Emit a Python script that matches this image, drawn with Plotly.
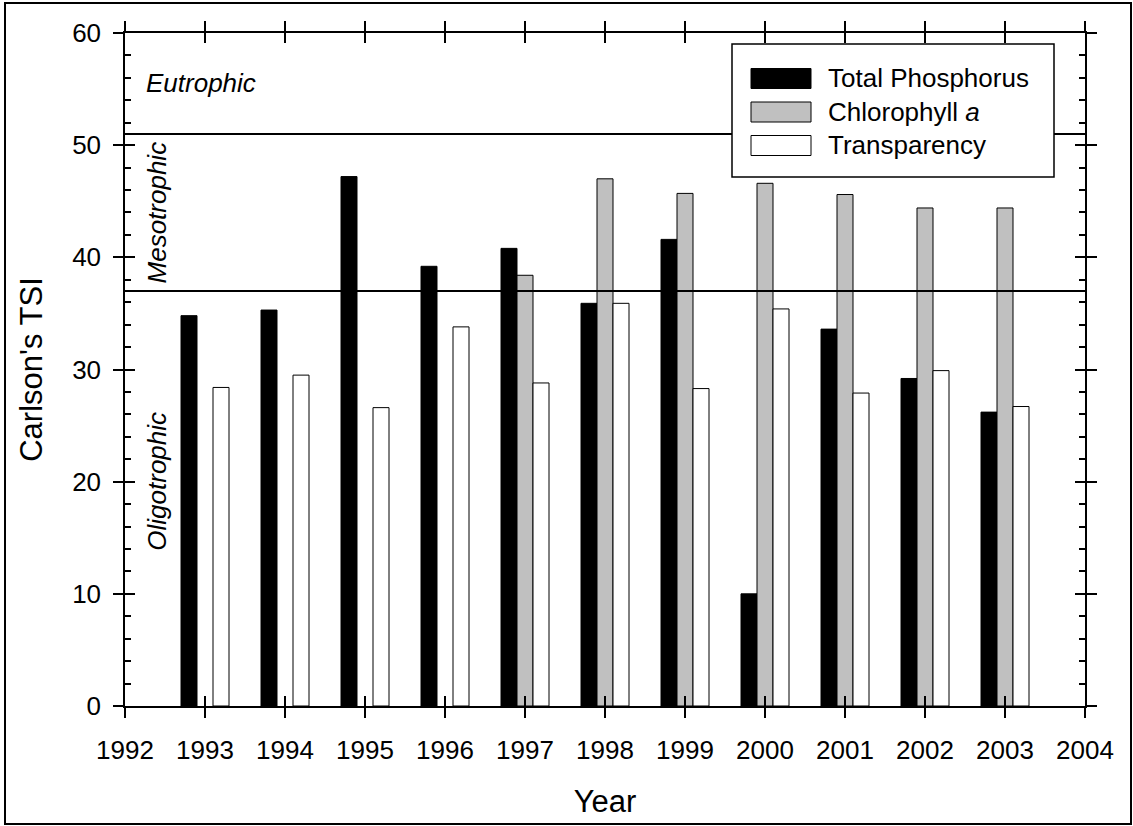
import plotly.graph_objects as go

# ---- data ----
years = [1993, 1994, 1995, 1996, 1997, 1998, 1999, 2000, 2001, 2002, 2003]
total_phosphorus = [34.8, 35.3, 47.2, 39.2, 40.8, 35.9, 41.6, 10.0, 33.6, 29.2, 26.2]
chlorophyll_a = [None, None, None, None, 38.4, 47.0, 45.7, 46.6, 45.6, 44.4, 44.4]
transparency = [28.4, 29.5, 26.6, 33.8, 28.8, 35.9, 28.3, 35.4, 27.9, 29.9, 26.7]
series_names = ["Total Phosphorus", "Chlorophyll <i>a</i>", "Transparency"]
series_colors = ["#000000", "#c0c0c0", "#ffffff"]
x_ticks = list(range(1992, 2005))
y_ticks = [0, 10, 20, 30, 40, 50, 60]
thresholds = [37, 51]
zone_labels = [("Eutrophic", 55.5), ("Mesotrophic", 44.0), ("Oligotrophic", 20.0)]

FONT = "Liberation Sans, Arial, sans-serif"

fig = go.Figure()
for name, vals, col in zip(series_names, [total_phosphorus, chlorophyll_a, transparency], series_colors):
    fig.add_trace(go.Bar(x=years, y=vals, name=name, marker=dict(color=col, line=dict(color="#000000", width=1)),
                         showlegend=False))

# helper trace for the inner tick axes
fig.add_trace(go.Scatter(x=[], y=[], xaxis="x2", yaxis="y2", showlegend=False, hoverinfo="skip"))

axis_common = dict(showgrid=False, zeroline=False, showline=True, linecolor="black", linewidth=1.5,
                   tickcolor="black", tickwidth=1.5, mirror="ticks")

fig.update_layout(
    width=1133, height=826,
    margin=dict(l=125, r=48, t=33, b=120),
    plot_bgcolor="white", paper_bgcolor="white",
    font=dict(family=FONT, color="black", size=26),
    barmode="group", bargap=0.4, bargroupgap=0,
    showlegend=False,
    xaxis=dict(range=[1992, 2004], tickmode="array", tickvals=x_ticks, ticks="outside", ticklen=10,
               ticklabelstandoff=10,
               tickfont=dict(size=26), title=dict(text="Year", font=dict(size=31), standoff=26),
               **axis_common),
    yaxis=dict(range=[0, 60], tickmode="array", tickvals=y_ticks, ticks="outside", ticklen=10,
               ticklabelstandoff=7,
               tickfont=dict(size=26), title=dict(text="Carlson's TSI", font=dict(size=31), standoff=20),
               **axis_common),
    xaxis2=dict(overlaying="x", anchor="y2", range=[1992, 2004], tickmode="array", tickvals=x_ticks,
                ticks="inside", ticklen=10, showticklabels=False, **axis_common),
    yaxis2=dict(overlaying="y", anchor="x2", side="left", range=[0, 60], tickmode="array", tickvals=y_ticks,
                ticks="inside", ticklen=10, showticklabels=False,
                minor=dict(ticks="inside", ticklen=6, dtick=2, tickcolor="black", tickwidth=1.5),
                **axis_common),
)

shapes = []
for th in thresholds:
    shapes.append(dict(type="line", xref="paper", x0=0, x1=1, yref="y", y0=th, y1=th,
                       line=dict(color="black", width=2), layer="above"))

# custom legend (paper coordinates)
def px_x(p):
    return (p - 125) / 960.0

def px_y(p):
    return (706 - p) / 673.0

shapes.append(dict(type="rect", xref="paper", yref="paper", x0=px_x(732), x1=px_x(1054),
                   y0=px_y(177), y1=px_y(44), fillcolor="white", line=dict(color="black", width=1.5),
                   layer="above"))
row_centers = [78.5, 112, 145.5]
annotations = []
for name, col, rc in zip(series_names, series_colors, row_centers):
    shapes.append(dict(type="rect", xref="paper", yref="paper", x0=px_x(751), x1=px_x(811),
                       y0=px_y(rc + 10), y1=px_y(rc - 10), fillcolor=col,
                       line=dict(color="black", width=1), layer="above"))
    annotations.append(dict(xref="paper", yref="paper", x=px_x(826), y=px_y(rc), text=name,
                            showarrow=False, xanchor="left", yanchor="middle",
                            font=dict(size=26, family=FONT, color="black")))

# outer frame
shapes.append(dict(type="rect", xref="paper", yref="paper", x0=px_x(5), x1=px_x(1131),
                   y0=px_y(824), y1=px_y(3), line=dict(color="black", width=2), layer="above"))

# zone labels
annotations.append(dict(x=1992.24, y=zone_labels[0][1], xref="x", yref="y", text="<i>%s</i>" % zone_labels[0][0],
                        showarrow=False, xanchor="left", yanchor="middle",
                        font=dict(size=26, family=FONT, color="black")))
for lab, yv in zone_labels[1:]:
    annotations.append(dict(x=1992.4, y=yv, xref="x", yref="y", text="<i>%s</i>" % lab, textangle=-90,
                            showarrow=False, xanchor="center", yanchor="middle",
                            font=dict(size=26, family=FONT, color="black")))

fig.update_layout(shapes=shapes, annotations=annotations)
fig.write_html("out.html")
